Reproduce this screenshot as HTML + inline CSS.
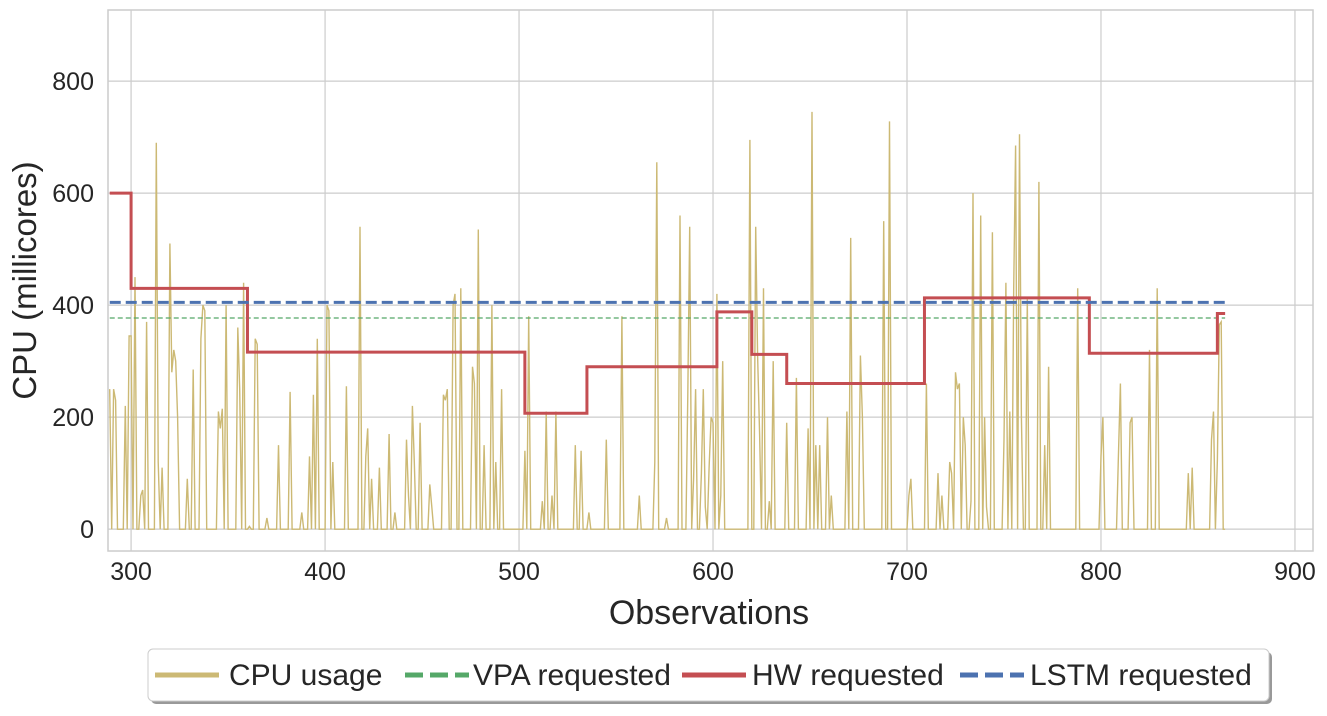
<!DOCTYPE html>
<html><head><meta charset="utf-8"><style>
body{margin:0;background:#fff;width:1327px;height:711px;overflow:hidden;font-family:"Liberation Sans",sans-serif}
</style></head><body>
<svg id="chart" width="1327" height="711" xmlns="http://www.w3.org/2000/svg" font-family="Liberation Sans, sans-serif"></svg>
<script>
const xTicks=[300,400,500,600,700,800,900];
const yTicks=[0,200,400,600,800];
const cpuStart=289;
const cpuValues=[
250,0,250,230,0,0,0,0,220,0,345,345,0,450,0,0,60,70,0,370,
0,0,0,0,690,120,0,110,0,0,0,510,280,320,300,200,0,0,0,0,
90,0,0,285,0,0,0,340,400,390,0,0,0,0,0,0,210,180,215,0,
400,0,0,0,0,0,360,250,0,440,0,0,5,0,0,340,330,0,0,0,
0,20,0,0,0,0,0,150,0,0,0,0,0,245,0,0,0,0,0,30,
0,0,0,130,0,240,0,340,0,0,0,0,400,390,0,120,0,0,0,0,
0,0,255,0,0,0,0,0,0,540,0,0,130,180,0,90,0,0,0,110,
0,0,0,0,170,0,0,30,0,0,0,0,0,160,60,0,220,120,0,0,
190,0,0,0,0,80,40,0,0,0,0,0,240,230,250,0,0,400,420,0,
0,430,0,0,0,0,0,290,260,0,535,0,0,150,0,0,0,400,0,120,
0,0,250,0,0,0,0,0,0,0,0,0,0,0,140,0,380,0,0,0,
0,0,0,50,0,210,0,0,60,0,210,0,0,0,0,0,0,0,0,0,
150,0,0,140,0,0,0,30,0,0,0,0,0,0,0,0,160,0,0,0,
0,0,0,0,380,0,0,0,0,0,0,0,0,60,0,0,0,0,0,0,
0,120,655,0,0,0,0,20,0,0,0,0,0,0,560,0,0,0,240,540,
0,90,250,0,0,100,250,40,0,110,200,190,0,420,0,60,300,0,0,0,
0,0,0,0,0,0,0,0,0,0,695,0,0,540,310,170,0,430,0,0,
50,0,300,0,0,0,0,0,0,190,0,0,0,0,270,0,0,0,0,0,
180,0,745,0,150,0,150,0,0,0,200,0,60,0,0,0,0,0,0,0,
210,0,520,0,0,0,0,310,200,0,0,0,0,0,0,0,0,0,0,550,
0,0,728,0,0,0,0,0,0,0,0,0,60,90,0,0,0,0,0,0,
0,260,0,0,0,0,0,100,0,60,0,0,0,120,100,0,280,250,260,0,
200,150,0,0,50,600,0,0,0,560,0,200,40,0,0,530,0,0,0,0,
0,160,440,0,210,0,430,685,0,705,200,0,0,410,0,0,0,0,0,620,
0,0,150,0,290,0,0,0,0,0,0,0,0,0,0,0,0,0,0,430,
0,0,0,0,0,0,0,0,0,0,0,130,200,0,0,0,0,0,0,0,
130,260,0,0,0,0,190,200,0,0,0,0,0,0,0,0,320,0,0,0,
430,0,0,0,0,0,0,0,0,0,0,0,0,0,0,0,100,0,110,0,
0,0,0,0,0,0,0,0,160,210,0,125,365,370,0,0];
const hwStarts=[289,300,360,503,535,602,620,638,709,794,860];
const hwValues=[600,430,316,207,290,388,312,260,413,314,385];
const hwEnd=864;
const vpaValue=377;
const lstmValue=405;

const svg=document.getElementById('chart');
const NS='http://www.w3.org/2000/svg';
const L=108,R=1313,T=10,B=551;
const xMin=288.1,xMax=909.3,yMin=-39,yMax=927;
const sx=v=>L+(v-xMin)/(xMax-xMin)*(R-L);
const sy=v=>B-(v-yMin)/(yMax-yMin)*(B-T);
function mk(tag,attrs,parent){const e=document.createElementNS(NS,tag);for(const k in attrs)e.setAttribute(k,attrs[k]);(parent||svg).appendChild(e);return e;}

const grid=mk('g',{});


xTicks.forEach(t=>{
  const l=mk('line',{x1:sx(t),x2:sx(t),y1:T,y2:B,stroke:'#cccccc','stroke-width':1.2},grid);
  
  
  const tx=mk('text',{x:sx(t),y:B+29,'text-anchor':'middle','font-size':25,fill:'#262626'});
  
  
  tx.textContent=t;
});
yTicks.forEach(t=>{
  const l=mk('line',{x1:L,x2:R,y1:sy(t),y2:sy(t),stroke:'#cccccc','stroke-width':1.2},grid);
  
  
  const tx=mk('text',{x:94,y:sy(t)+9,'text-anchor':'end','font-size':25,fill:'#262626'});
  
  
  tx.textContent=t;
});
const frame=mk('rect',{x:L,y:T,width:R-L,height:B-T,fill:'none',stroke:'#cccccc','stroke-width':1.5});



let d='';cpuValues.forEach((v,i)=>{d+=(i?'L':'M')+sx(cpuStart+i).toFixed(1)+','+sy(v).toFixed(1);});
const cpu=mk('path',{d:d,fill:'none',stroke:'#ccb974','stroke-width':1.4});



const xEnd=cpuStart+cpuValues.length-1;
const vpa=mk('line',{x1:sx(cpuStart),x2:sx(xEnd),y1:sy(vpaValue),y2:sy(vpaValue),stroke:'#55a868','stroke-width':1.3,'stroke-dasharray':'5,3'});



let h='';hwStarts.forEach((s,i)=>{const e=i<hwStarts.length-1?hwStarts[i+1]:hwEnd;
  h+=(i?'L':'M')+sx(s)+','+sy(hwValues[i])+'L'+sx(e)+','+sy(hwValues[i]);});
const hw=mk('path',{d:h,fill:'none',stroke:'#c44e52','stroke-width':3});



const lstm=mk('line',{x1:sx(cpuStart),x2:sx(xEnd),y1:sy(lstmValue),y2:sy(lstmValue),stroke:'#4c72b0','stroke-width':3,'stroke-dasharray':'11,5'});



const xt=mk('text',{x:709,y:624,'text-anchor':'middle','font-size':34,fill:'#262626'});


xt.textContent='Observations';
const yt=mk('text',{x:0,y:0,'text-anchor':'middle','font-size':33,fill:'#262626',transform:'translate(36,'+((T+B)/2)+') rotate(-90)'});


yt.textContent='CPU (millicores)';

const lg=mk('g',{});


mk('rect',{x:151,y:652,width:1121,height:52,rx:5,fill:'#999'},lg);
const box=mk('rect',{x:148,y:649,width:1121,height:52,rx:5,fill:'#fff',stroke:'#cccccc'},lg);


const entries=[['CPU usage','#ccb974','',155,229],['VPA requested','#55a868','18,7',405,473],['HW requested','#c44e52','',682,752],['LSTM requested','#4c72b0','18,7',960,1030]];
entries.forEach(e=>{
  const g=mk('g',{},lg);
  
  
  const a={x1:e[3],x2:e[3]+64,y1:675,y2:675,stroke:e[1],'stroke-width':5};
  if(e[2])a['stroke-dasharray']=e[2];
  mk('line',a,g);
  const t=mk('text',{x:e[4],y:685,'font-size':30,fill:'#262626'},g);
  t.textContent=e[0];
});
</script>
</body></html>
